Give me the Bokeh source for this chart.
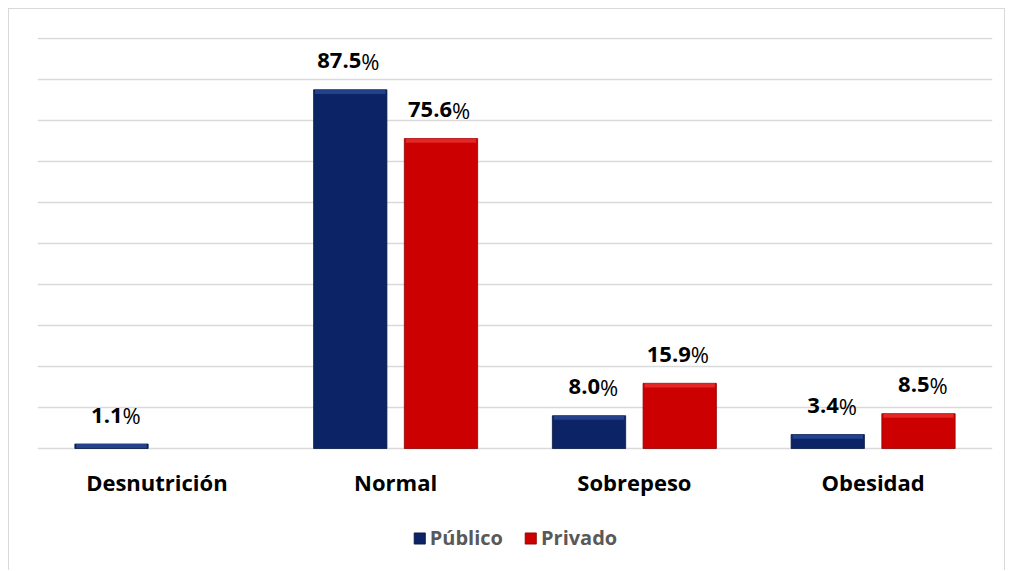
from bokeh.plotting import figure
from bokeh.models import ColumnDataSource, FactorRange, Range1d, Legend, LegendItem
from bokeh.transform import dodge
from bokeh.core.properties import value
from bokeh.embed import file_html
from bokeh.resources import INLINE

categories = ["Desnutrición", "Normal", "Sobrepeso", "Obesidad"]
publico = [1.1, 87.5, 8.0, 3.4]
privado = [0.0, 75.6, 15.9, 8.5]
series_names = ["Público", "Privado"]

FONT = "Open Sans"
BLUE = "#0c2466"
BLUE_HI = "#2a4a95"
RED = "#cc0000"
RED_HI = "#e83030"

p = figure(frame_width=955, frame_height=533, x_range=FactorRange(*categories, range_padding=0),
           y_range=Range1d(-29.75, 100.25), output_backend="svg", toolbar_location=None,
           min_border_left=28, min_border_right=12, min_border_top=28, min_border_bottom=0)
p.margin = (8, 0, 0, 8)
p.styles = {"border-top": "1px solid #d9d9d9", "border-left": "1px solid #d9d9d9",
            "border-right": "1px solid #d9d9d9"}
p.outline_line_color = None
p.background_fill_color = "white"
p.border_fill_color = "white"


def make_src(vals):
    keep = [(c, v) for c, v in zip(categories, vals) if v > 0]
    return ColumnDataSource(dict(cat=[c for c, _ in keep], v=[v for _, v in keep],
                                 hi=[max(v - 1.0, 0) for _, v in keep],
                                 lbl=[f"{v:.1f}" for _, v in keep]))


src_pub = make_src(publico)
src_pri = make_src(privado)

OFF = 0.19
W = 0.307
r_pub = p.vbar(x=dodge("cat", -OFF, range=p.x_range), top="v", bottom=0, width=W, source=src_pub,
               fill_color=BLUE, line_color="#06163f", line_width=0.8)
p.vbar(x=dodge("cat", -OFF, range=p.x_range), top="v", bottom="hi", width=W * 0.96, source=src_pub,
       fill_color=BLUE_HI, line_color=None, fill_alpha=0.8)
r_pri = p.vbar(x=dodge("cat", OFF, range=p.x_range), top="v", bottom=0, width=W, source=src_pri,
               fill_color=RED, line_color="#8a0000", line_width=0.8)
p.vbar(x=dodge("cat", OFF, range=p.x_range), top="v", bottom="hi", width=W * 0.96, source=src_pri,
       fill_color=RED_HI, line_color=None, fill_alpha=0.8)

# value labels
for src, off in ((src_pub, -OFF), (src_pri, OFF)):
    p.text(x=dodge("cat", off, range=p.x_range), y="v", text="lbl", source=src,
           text_align="right", text_baseline="alphabetic", x_offset=11, y_offset=-29,
           text_font=value(FONT), text_font_style="bold", text_font_size="22px", text_color="black")
    p.text(x=dodge("cat", off, range=p.x_range), y="v", text=value("%"), source=src,
           text_align="left", text_baseline="alphabetic", x_offset=11, y_offset=-29,
           text_font=value(FONT), text_font_style="normal", text_font_size="22px", text_color="black")

# category labels under the baseline
cat_src = ColumnDataSource(dict(cat=categories, y=[0] * len(categories)))
p.text(x="cat", y="y", text="cat", source=cat_src, text_align="center",
       text_baseline="alphabetic", y_offset=33, text_font=value(FONT),
       text_font_style="bold", text_font_size="22px", text_color="black")

p.xaxis.visible = False
p.yaxis.visible = False
p.ygrid.ticker = list(range(0, 101, 10))
p.ygrid.grid_line_color = "#d9d9d9"
p.ygrid.grid_line_width = 1.5
p.xgrid.grid_line_color = None

legend = Legend(items=[LegendItem(label=series_names[0], renderers=[r_pub]),
                       LegendItem(label=series_names[1], renderers=[r_pri])],
                orientation="horizontal", location="bottom_center")
legend.label_text_font = FONT
legend.label_text_font_style = "bold"
legend.label_text_font_size = "20px"
legend.label_text_color = "#595959"
legend.glyph_width = 14
legend.glyph_height = 14
legend.spacing = 20
legend.label_standoff = 4
legend.border_line_color = None
legend.background_fill_alpha = 0
legend.margin = 19
legend.padding = 0
p.add_layout(legend, "center")

open("out.html", "w").write(file_html(p, INLINE))
